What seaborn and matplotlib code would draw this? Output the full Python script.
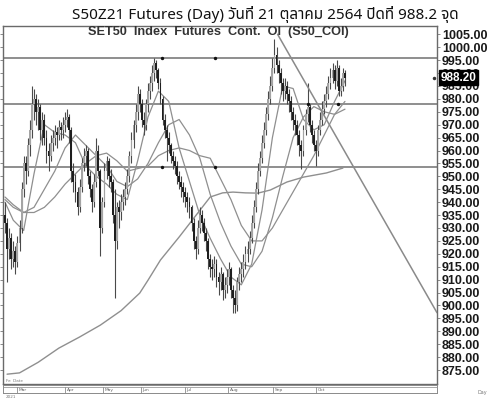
import matplotlib
matplotlib.use("Agg")
import matplotlib.pyplot as plt
import matplotlib.transforms as mtransforms
import numpy as np
import pandas as pd
import seaborn as sns

# ---------------- data ----------------
day_open = [935, 932, 922, 926, 918, 921, 917, 924, 930, 945,
            955, 952, 962, 968, 978, 980, 975, 977, 968, 972,
            965, 960, 958, 963, 965, 967, 966, 969, 968, 970,
            972, 973, 968, 952, 948, 944, 938, 946, 955, 958,
            960, 950, 945, 940, 948, 960, 952, 930, 940, 952,
            956, 950, 948, 935, 925, 938, 936, 940, 942, 945,
            950, 958, 964, 970, 975, 982, 978, 972, 970, 978,
            983, 986, 990, 994, 991, 986, 980, 972, 968, 965,
            962, 958, 956, 954, 950, 948, 946, 944, 942, 940,
            938, 932, 925, 922, 930, 935, 932, 928, 925, 918,
            915, 914, 916, 911, 909, 912, 906, 908, 911, 914,
            906, 903, 900, 909, 912, 914, 917, 920, 922, 926,
            932, 938, 945, 952, 957, 963, 968, 974, 980, 985,
            992, 997, 993, 990, 986, 983, 985, 982, 979, 975,
            972, 970, 966, 962, 960, 968, 974, 977, 970, 966,
            962, 960, 968, 972, 976, 979, 982, 986, 988, 991,
            987, 992, 983, 985, 990]
day_high = [940, 934, 930, 928, 925, 923, 927, 933, 948, 958,
            958, 965, 972, 985, 984, 982, 980, 978, 975, 974,
            968, 963, 966, 968, 970, 969, 972, 971, 973, 975,
            976, 974, 969, 955, 951, 946, 949, 957, 961, 962,
            961, 952, 947, 951, 965, 962, 953, 942, 955, 958,
            957, 953, 949, 945, 940, 941, 943, 945, 948, 953,
            960, 967, 972, 978, 985, 984, 980, 975, 980, 986,
            989, 993, 996, 995, 992, 988, 981, 974, 970, 967,
            963, 960, 958, 956, 952, 950, 948, 946, 944, 942,
            939, 934, 927, 933, 938, 937, 934, 930, 926, 920,
            918, 919, 918, 913, 915, 913, 911, 914, 917, 915,
            908, 906, 911, 915, 917, 920, 923, 925, 929, 935,
            941, 948, 955, 960, 966, 971, 977, 983, 989, 996,
            1003, 1000, 995, 992, 988, 988, 987, 984, 981, 977,
            974, 972, 968, 964, 970, 976, 986, 978, 972, 968,
            964, 970, 975, 979, 982, 985, 989, 992, 994, 993,
            995, 993, 988, 992, 991]
day_low = [928, 909, 918, 914, 915, 912, 915, 921, 928, 942,
           947, 950, 958, 965, 972, 970, 968, 964, 962, 962,
           955, 952, 956, 960, 962, 961, 964, 964, 965, 967,
           969, 963, 948, 944, 940, 935, 936, 944, 952, 954,
           947, 942, 936, 938, 946, 950, 919, 928, 938, 949,
           946, 944, 932, 903, 922, 930, 933, 937, 939, 943,
           948, 955, 961, 967, 972, 975, 969, 966, 968, 975,
           980, 983, 987, 988, 984, 978, 970, 965, 956, 959,
           955, 953, 951, 947, 945, 942, 940, 938, 936, 934,
           929, 922, 918, 920, 928, 929, 925, 921, 914, 911,
           910, 911, 907, 904, 906, 902, 903, 905, 908, 903,
           897, 897, 898, 906, 909, 911, 914, 917, 920, 924,
           930, 936, 943, 950, 955, 961, 966, 972, 978, 983,
           990, 990, 986, 982, 979, 980, 978, 975, 972, 968,
           966, 962, 958, 953, 958, 966, 971, 967, 963, 960,
           954, 958, 966, 970, 974, 977, 980, 984, 986, 984,
           985, 981, 981, 983, 985]
day_close = [932, 922, 926, 918, 921, 917, 924, 930, 945, 955,
             952, 962, 968, 978, 980, 975, 977, 968, 972, 965,
             960, 958, 963, 965, 967, 966, 969, 968, 970, 972,
             973, 968, 952, 948, 944, 938, 946, 955, 958, 960,
             950, 945, 940, 948, 960, 952, 930, 940, 952, 956,
             950, 948, 935, 925, 938, 936, 940, 942, 945, 950,
             958, 964, 970, 975, 982, 978, 972, 970, 978, 983,
             986, 990, 994, 991, 986, 980, 972, 968, 965, 962,
             958, 956, 954, 950, 948, 946, 944, 942, 940, 938,
             932, 925, 922, 930, 935, 932, 928, 925, 918, 915,
             914, 916, 911, 909, 912, 906, 908, 911, 914, 906,
             903, 900, 909, 912, 914, 917, 920, 922, 926, 932,
             938, 945, 952, 957, 963, 968, 974, 980, 985, 992,
             997, 993, 990, 986, 983, 985, 982, 979, 975, 972,
             970, 966, 962, 960, 968, 974, 977, 970, 966, 962,
             960, 968, 972, 976, 979, 982, 986, 988, 991, 987,
             992, 983, 985, 990, 988.2]

ma_day = [0, 4, 9, 14, 19, 24, 29, 34, 39, 44, 49, 54, 59, 64, 69, 74, 79, 84,
          89, 94, 99, 104, 109, 114, 119, 124, 129, 134, 139, 144, 149, 154, 159, 164]
ma_short = [940, 933, 929, 951, 970, 967, 966, 963, 954, 950, 947, 943, 941, 956,
            973, 983, 979, 961, 948, 935, 926, 918, 911, 908, 916, 937, 965, 985,
            984, 972, 968, 970, 979, 987]
ma_mid = [941, 938, 936, 938, 945, 952, 961, 966, 962, 958, 954, 948, 946, 949,
          955, 963, 970, 972, 966, 957, 943, 932, 923, 916, 915, 921, 934, 950,
          965, 973, 977, 975, 974, 976]
ma_long = [942, 939, 936, 936, 938, 942, 947, 951, 955, 958, 959, 956, 952, 953,
           954, 958, 960, 961, 960, 958, 957, 949, 941, 931, 925, 925, 930, 937,
           944, 951, 958, 966, 974, 979]
ma200_day = [1, 7, 16, 26, 36, 46, 56, 65, 69, 75, 84, 93, 99, 105, 110, 116, 122,
             128, 136, 144, 155, 163]
ma200_val = [873.4, 873.9, 878.0, 883.5, 887.8, 892.4, 898.0, 904.8, 909.8, 917.6,
             926.5, 935.8, 942.0, 943.6, 943.9, 943.6, 943.5, 944.7, 947.8, 949.7,
             951.3, 953.2]

levels = [996.0, 978.2, 953.5]
level_dots_day = [[75.7, 101.3], [146.0, 160.6], [75.7, 101.3]]
trend_day = [131.5, 208.4]
trend_val = [1005.0, 897.2]

month_names = ["Mar", "Apr", "May", "Jun", "Jul", "Aug", "Sep", "Oct"]
month_pos = [5.8, 28.9, 47.3, 65.6, 86.8, 107.6, 129.3, 150.0]
last_price = 988.2
y_ticks = list(range(875, 1010, 5))

title = "S50Z21 Futures (Day) วันที่ 21 ตุลาคม 2564 ปิดที่ 988.2 จุด"
subtitle = "SET50  Index  Futures  Cont.  OI  (S50_COI)"

# ---------------- style ----------------
sns.set_theme(style="white")
plt.rcParams["font.family"] = ["Noto Sans Thai", "Tahoma", "Loma", "Garuda",
                               "Liberation Sans", "DejaVu Sans"]

fig = plt.figure(figsize=(5.0, 3.99), dpi=100)
ax = fig.add_axes([0.006, 0.0376, 0.868, 0.8972])

df = pd.DataFrame({"open": day_open, "high": day_high,
                   "low": day_low, "close": day_close})
df["day"] = np.arange(len(df))
up = df["close"] >= df["open"]

XMIN, XMAX = -0.96, 208.4
YMIN, YMAX = 869.6, 1008.2

# horizontal levels
for lv in levels:
    ax.axhline(lv, color="#8e8e8e", lw=1.4, zorder=1)
for lv, dd in zip(levels, level_dots_day):
    ax.scatter(dd, [lv] * len(dd), s=6, color="#111111", zorder=6, linewidths=0)

# moving averages
line_col = "#8f8f8f"
sns.lineplot(x=ma200_day, y=ma200_val, ax=ax, color=line_col, lw=1.0, zorder=2)
for m in (ma_long, ma_mid, ma_short):
    sns.lineplot(x=ma_day, y=m, ax=ax, color=line_col, lw=0.9, zorder=2)

# candles
ax.vlines(df["day"], df["low"], df["high"], color="#4a4a4a", lw=0.8, zorder=3)
body = (df["close"] - df["open"]).abs().clip(lower=0.8)
bottom = df[["open", "close"]].min(axis=1)
ax.bar(df["day"][up], body[up], bottom=bottom[up], width=0.9,
       color="#a4a4a4", edgecolor="none", zorder=4)
ax.bar(df["day"][~up], body[~up], bottom=bottom[~up], width=0.9,
       color="#1e1e1e", edgecolor="none", zorder=4)

# trend line
sns.lineplot(x=trend_day, y=trend_val, ax=ax, color="#8a8a8a", lw=1.1, zorder=5)

ax.set_xlim(XMIN, XMAX)
ax.set_ylim(YMIN, YMAX)
ax.set_xticks([])
ax.set_yticks(y_ticks)
ax.set_yticklabels([f"{v:.2f}" for v in y_ticks])
ax.yaxis.tick_right()
ax.tick_params(axis="y", which="both", right=True, left=True, direction="out",
               length=2.5, width=0.6, color="#777777", pad=1,
               labelsize=9, labelcolor="#1a1a1a")
for lab in ax.get_yticklabels():
    lab.set_fontweight("bold")
    lab.set_family(["Liberation Sans", "DejaVu Sans"])
ax.set_xlabel("")
ax.set_ylabel("")
for sp in ax.spines.values():
    sp.set_color("#6a6a6a")
    sp.set_linewidth(1.0)

# last price tag
trans = mtransforms.blended_transform_factory(ax.transAxes, ax.transData)
ax.plot([0.993], [last_price], marker="o", ms=1.5, color="#333333",
        transform=trans, clip_on=False)
ax.annotate(f"{last_price:.2f}", xy=(1.0, last_price), xycoords=trans,
            xytext=(2.5, 0), textcoords="offset points", ha="left", va="center",
            fontsize=8.5, fontweight="bold", color="white",
            family=["Liberation Sans", "DejaVu Sans"],
            bbox=dict(boxstyle="square,pad=0.1", fc="black", ec="black"),
            zorder=10, annotation_clip=False)

# subtitle inside plot
fig.text(0.436, 0.921, subtitle, ha="center", va="center", fontsize=9.2,
         fontweight="bold", color="#333333",
         family=["Liberation Sans", "DejaVu Sans"])

# title
fig.text(0.53, 0.963, title, ha="center", va="center", fontsize=11,
         color="#111111")

# date strip
ax2 = fig.add_axes([0.006, 1 - 393 / 399, 0.868, 8 / 399])
ax2.set_xlim(XMIN, XMAX)
ax2.set_ylim(0, 1)
ax2.set_xticks([])
ax2.set_yticks([])
ax2.axhline(0.78, color="#9a9a9a", lw=0.6)
for p, nm in zip(month_pos, month_names):
    ax2.axvline(p, ymax=0.78, color="#8a8a8a", lw=0.6)
    ax2.text(p + 0.8, 0.38, nm, fontsize=3.2, va="center", ha="left",
             color="#666666", family=["DejaVu Sans"])
for sp in ax2.spines.values():
    sp.set_color("#8a8a8a")
    sp.set_linewidth(0.7)

fig.text(0.012, 0.045, "Fe  Date", fontsize=3.0, color="#777777",
         family=["DejaVu Sans"], va="center")
fig.text(0.012, 0.006, "2021", fontsize=3.0, color="#777777",
         family=["DejaVu Sans"], va="center")
fig.text(0.955, 0.016, "Day", fontsize=3.5, color="#777777",
         family=["DejaVu Sans"], va="center")

fig.savefig("out.png", dpi=100, facecolor="white")
